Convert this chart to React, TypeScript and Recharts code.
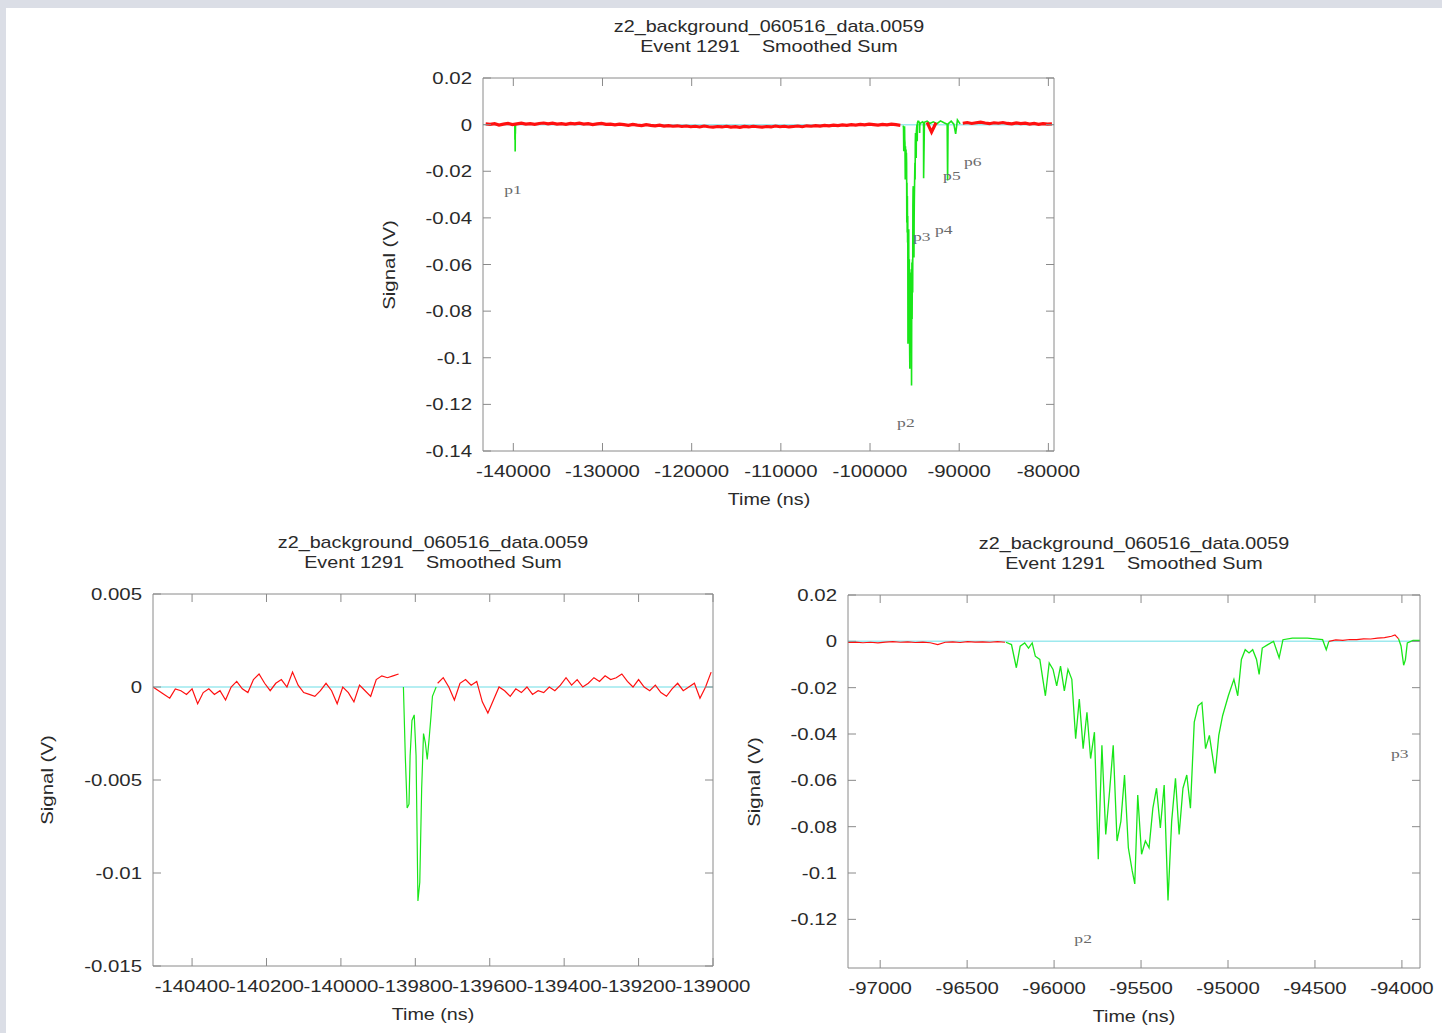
import React from 'react';
import { LineChart, Line, XAxis, YAxis, ReferenceDot } from 'recharts';

// ---- data ----

// p1 pulse (same pulse in the overview and the left zoom)
const p1Times = [-139832, -139827, -139822, -139817, -139814, -139809, -139803, -139798, -139793, -139788, -139783, -139778, -139773, -139768, -139763, -139758, -139754, -139744];
const p1Vals = [0, -0.0037, -0.0065, -0.0063, -0.0037, -0.0018, -0.0015, -0.0037, -0.0115, -0.0105, -0.0055, -0.0025, -0.003, -0.0039, -0.0028, -0.0016, -0.0005, 0];

// p2 pulse (overview and right zoom)
const p2Times = [
  -96277, -96245, -96217, -96195, -96169, -96147, -96126, -96108, -96082, -96050,
  -96028, -96006, -95985, -95963, -95941, -95920, -95898, -95876, -95855, -95833,
  -95811, -95790, -95768, -95746, -95725, -95703, -95681, -95660, -95638, -95616,
  -95595, -95573, -95551, -95536, -95519, -95497, -95475, -95454, -95432, -95411,
  -95389, -95367, -95345, -95324, -95302, -95281, -95259, -95237, -95216, -95194,
  -95172, -95150, -95129, -95107, -95074, -95053, -95031, -94998, -94966, -94944,
  -94923, -94901, -94879, -94858, -94836, -94821, -94803, -94771, -94738, -94706,
  -94684, -94630, -94543, -94456, -94435, -94420,
];
const p2Vals = [
  -0.0004, -0.0014, -0.0114, -0.0021, -0.0007, -0.0029, -0.0007, -0.0064, -0.0078, -0.0235,
  -0.0093, -0.0121, -0.0192, -0.0107, -0.0214, -0.0121, -0.0164, -0.042, -0.0249, -0.0463,
  -0.0306, -0.0506, -0.0392, -0.094, -0.0449, -0.0834, -0.0648, -0.0449, -0.0862, -0.0777,
  -0.0577, -0.0891, -0.099, -0.1047, -0.0663, -0.0919, -0.0862, -0.0891, -0.072, -0.0634,
  -0.0805, -0.062, -0.1119, -0.0777, -0.0591, -0.0834, -0.0634, -0.0577, -0.072, -0.0349,
  -0.0278, -0.0264, -0.0463, -0.0406, -0.057, -0.0406, -0.0321, -0.0235, -0.0164, -0.0235,
  -0.0078, -0.0036, -0.005, -0.0036, -0.0078, -0.0143, -0.0029, -0.0014, 0, -0.0071,
  0.0007, 0.0014, 0.0014, 0.0007, -0.0036, 0,
];

// later pulses as seen in the overview
const topTailTimes = [-94300, -94100, -94000, -93990, -93900, -93600, -93300, -92900, -92500, -92100, -91700, -91350, -91300, -91250, -90900, -90600, -90400, -90200, -89900];
const topTailVals = [0.0008, 0.0012, 0.0005, -0.023, 0.001, 0.0015, 0.0005, 0.0012, 0.0004, 0.0016, 0.0008, 0.0002, -0.024, 0.0003, 0.0015, 0.0002, -0.004, 0.002, 0.0003];

// overview raw trace, sampled every 500 ns from -143100
const topRedStart = -143100;
const topRedStep = 500;
const topRedVals: (number | null)[] = [
  0.0003, 0.0001, 0.0004, -0.0002, 0.0002, 0.0005, 0.0, 0.0003, 0.0006, 0.0002,
  0.0004, 0.0001, 0.0005, 0.0007, 0.0003, 0.0006, 0.0002, 0.0004, 0.0001, 0.0005,
  0.0003, 0.0006, 0.0002, 0.0004, 0.0, 0.0003, 0.0005, 0.0001, 0.0002, -0.0001,
  0.0002, 0.0, -0.0003, 0.0001, -0.0002, -0.0004, 0.0, -0.0003, -0.0005, -0.0002,
  -0.0006, -0.0004, -0.0007, -0.0005, -0.0008, -0.0006, -0.0009, -0.0007, -0.001, -0.0006,
  -0.0009, -0.0011, -0.0008, -0.001, -0.0007, -0.0011, -0.0009, -0.0012, -0.0008, -0.001,
  -0.0007, -0.0009, -0.0011, -0.0008, -0.001, -0.0006, -0.0009, -0.0007, -0.001, -0.0008,
  -0.0006, -0.0009, -0.0005, -0.0007, -0.0004, -0.0006, -0.0003, -0.0005, -0.0002, -0.0004,
  -0.0001, -0.0003, 0.0, -0.0002, 0.0001, -0.0001, 0.0002, 0.0, -0.0002, 0.0001,
  -0.0001, 0.0002, 0.0, -0.0003,
  null, null, null, null, null,
  0.001, -0.0032, 0.0008,
  null, null, null, null, null,
  0.0006, 0.0009, 0.0005, 0.0008, 0.0011, 0.0007, 0.0004, 0.0008, 0.0006, 0.0009,
  0.0005, 0.0003, 0.0007, 0.0004, 0.0006, 0.0002, 0.0005, 0.0001, 0.0004, 0.0002, 0.0003,
];

// left zoom raw trace, sampled every 15 ns from -140505
const blRedStart = -140505;
const blRedStep = 15;
const blRedVals: (number | null)[] = [
  0.0, -0.0002, -0.0004, -0.0006, -0.0001, -0.0002, -0.0004, -0.0001, -0.0009, -0.0003,
  -0.0001, -0.0004, -0.0002, -0.0007, 0.0, 0.0003, -0.0001, -0.0003, 0.0004, 0.0007,
  0.0002, -0.0002, 0.0002, 0.0004, 0.0, 0.0008, 0.0001, -0.0003, -0.0004, -0.0005,
  -0.0002, 0.0002, -0.0002, -0.0009, 0.0, -0.0003, -0.0008, 0.0001, -0.0002, -0.0005,
  0.0004, 0.0006, 0.0005, 0.0006, 0.0007,
  null, null, null, null, null, null,
  0.0002, 0.0005, 0.0, -0.0007, 0.0002, 0.0004, 0.0001, 0.0003, -0.0008,
  -0.0014, -0.0007, 0.0, -0.0002, -0.0005, -0.0001, -0.0003, 0.0, -0.0004, -0.0002,
  -0.0003, 0.0, -0.0002, 0.0001, 0.0005, 0.0001, 0.0004, 0.0, 0.0002, 0.0005,
  0.0003, 0.0006, 0.0004, 0.0005, 0.0007, 0.0003, 0.0, 0.0004, 0.0, -0.0002,
  0.0001, -0.0003, -0.0005, -0.0001, 0.0002, -0.0002, 0.0, 0.0002, -0.0006, 0.0, 0.0008,
];

// right zoom raw trace
const brRedStart = -97185;
const brRedStep = 43;
const brRedVals = [
  -0.0005, -0.0003, -0.0006, -0.0004, -0.0007, -0.0003, -0.0001, -0.0004, -0.0002, -0.0005,
  -0.0003, -0.0006, -0.0014, -0.0004, -0.0002, -0.0005, -0.0001, -0.0003, -0.0002, -0.0004,
  -0.0001, -0.0004,
];
const brRedTailTimes = [-94420, -94380, -94340, -94300, -94260, -94220, -94180, -94140, -94100, -94060, -94040, -94020];
const brRedTailVals = [0, 0.0006, 0.0004, 0.0008, 0.0007, 0.0011, 0.001, 0.0014, 0.0016, 0.0022, 0.0028, 0.0012];
const brP3Times = [-94020, -94005, -93990, -93980, -93969, -93936, -93893];
const brP3Vals = [0.0012, -0.002, -0.0103, -0.008, -0.0007, 0.0004, 0.0004];

// axes
const topXDomain = [-143400, -79370];
const topXTicks = [-140000, -130000, -120000, -110000, -100000, -90000, -80000];
const topYDomain = [-0.14, 0.02];
const topYTicks = [0.02, 0, -0.02, -0.04, -0.06, -0.08, -0.1, -0.12, -0.14];

const blXDomain = [-140505, -139000];
const blXTicks = [-140400, -140200, -140000, -139800, -139600, -139400, -139200, -139000];
const blYDomain = [-0.015, 0.005];
const blYTicks = [0.005, 0, -0.005, -0.01, -0.015];

const brXDomain = [-97185, -93896];
const brXTicks = [-97000, -96500, -96000, -95500, -95000, -94500, -94000];
const brYDomain = [-0.141, 0.02];
const brYTicks = [0.02, 0, -0.02, -0.04, -0.06, -0.08, -0.1, -0.12];

const topMarks = [
  { name: 'p1', t: -140030, v: -0.028 },
  { name: 'p2', t: -95980, v: -0.128 },
  { name: 'p3', t: -94190, v: -0.048 },
  { name: 'p4', t: -91720, v: -0.045 },
  { name: 'p5', t: -90820, v: -0.022 },
  { name: 'p6', t: -88470, v: -0.016 },
];
const brMarks = [
  { name: 'p2', t: -95833, v: -0.1283 },
  { name: 'p3', t: -94013, v: -0.0485 },
];

const titleLine1 = 'z2_background_060516_data.0059';
const titleLine2 = 'Event 1291    Smoothed Sum';

// ---- helpers ----
type Pt = { t: number; v: number | null };
const grid = (start: number, step: number, vals: (number | null)[]): Pt[] => vals.map((v, i) => ({ t: start + i * step, v }));
const pairs = (ts: number[], vs: number[]): Pt[] => ts.map((t, i) => ({ t, v: vs[i] }));
const gap = (t: number): Pt[] => [{ t, v: null }];

const FONT = '"Liberation Sans", Arial, Helvetica, sans-serif';
const SERIF = '"Liberation Serif", "DejaVu Serif", serif';
const TXT = '#2a2a2a';
const AXIS = '#8a8a8a';
const RED = '#ff1010';
const GREEN = '#19e619';
const CYAN = '#9de9ee';
const SX = 1.16;
const SX_TICK = 1.2;

const fmtNum = (v: number) => (v === 0 ? '0' : String(Number(v.toFixed(4))));

const BottomTick = (props: any) => {
  const { x, y, payload } = props;
  return (
    <g>
      <line x1={x} y1={y} x2={x} y2={y - 8} stroke={AXIS} />
      <text transform={`translate(${x},${y + 26}) scale(${SX_TICK},1)`} textAnchor="middle" fontSize={17} fontFamily={FONT} fill={TXT}>
        {fmtNum(payload.value)}
      </text>
    </g>
  );
};
const TopTick = (props: any) => <line x1={props.x} y1={props.y} x2={props.x} y2={props.y + 8} stroke={AXIS} />;
const LeftTick = (props: any) => {
  const { x, y, payload } = props;
  return (
    <g>
      <line x1={x} y1={y} x2={x + 8} y2={y} stroke={AXIS} />
      <text transform={`translate(${x - 11},${y + 6}) scale(${SX_TICK},1)`} textAnchor="end" fontSize={17} fontFamily={FONT} fill={TXT}>
        {fmtNum(payload.value)}
      </text>
    </g>
  );
};
const RightTick = (props: any) => <line x1={props.x} y1={props.y} x2={props.x - 8} y2={props.y} stroke={AXIS} />;

const Caption = ({ x, y, text, rotate }: { x: number; y: number; text: string; rotate?: boolean }) => (
  <div
    style={{
      position: 'absolute',
      left: x,
      top: y,
      transform: rotate ? 'translate(-50%,-50%) rotate(-90deg) scaleX(1.2)' : `translate(-50%,-50%) scaleX(${SX})`,
      whiteSpace: 'pre',
      fontFamily: FONT,
      fontSize: 17,
      lineHeight: '20px',
      color: TXT,
    }}
  >
    {text}
  </div>
);

interface PanelProps {
  plot: { x: number; y: number; w: number; h: number };
  xDomain: number[];
  xTicks: number[];
  yDomain: number[];
  yTicks: number[];
  red: Pt[];
  green: Pt[];
  redWidth: number;
  greenWidth: number;
  marks: { name: string; t: number; v: number }[];
  yLabelDx: number;
}

// axis band sizes; the plot box sits exactly inside them
const AX_B = 30, AX_T = 10, AX_L = 60, AX_R = 10;

const Panel: React.FC<PanelProps> = ({ plot, xDomain, xTicks, yDomain, yTicks, red, green, redWidth, greenWidth, marks, yLabelDx }) => {
  const ML = 130, MR = 50, MT = 12, MB = 45;
  const cx = plot.x + plot.w / 2;
  const base = pairs(xDomain, [0, 0]);
  return (
    <>
      <div style={{ position: 'absolute', left: plot.x - ML, top: plot.y - MT }}>
        <LineChart width={plot.w + ML + MR} height={plot.h + MT + MB}
          margin={{ top: MT - AX_T, right: MR - AX_R, bottom: MB - AX_B, left: ML - AX_L }}>
          <XAxis xAxisId="b" dataKey="t" type="number" domain={xDomain} ticks={xTicks} interval={0} allowDataOverflow
            height={AX_B} tickSize={0} tickMargin={0} tickLine={false} axisLine={{ stroke: AXIS }} tick={<BottomTick />} />
          <XAxis xAxisId="t" orientation="top" dataKey="t" type="number" domain={xDomain} ticks={xTicks} interval={0} allowDataOverflow
            height={AX_T} tickSize={0} tickMargin={0} tickLine={false} axisLine={{ stroke: AXIS }} tick={<TopTick />} />
          <YAxis yAxisId="l" type="number" domain={yDomain} ticks={yTicks} interval={0} allowDataOverflow
            width={AX_L} tickSize={0} tickMargin={0} tickLine={false} axisLine={{ stroke: AXIS }} tick={<LeftTick />} />
          <YAxis yAxisId="r" orientation="right" type="number" domain={yDomain} ticks={yTicks} interval={0} allowDataOverflow
            width={AX_R} tickSize={0} tickMargin={0} tickLine={false} axisLine={{ stroke: AXIS }} tick={<RightTick />} />
          <Line xAxisId="b" yAxisId="l" data={base} dataKey="v" type="linear" stroke={CYAN} strokeWidth={1.5} dot={false} activeDot={false} isAnimationActive={false} />
          <Line xAxisId="b" yAxisId="l" data={green} dataKey="v" type="linear" stroke={GREEN} strokeWidth={greenWidth} dot={false} activeDot={false} connectNulls={false} isAnimationActive={false} />
          <Line xAxisId="b" yAxisId="l" data={red} dataKey="v" type="linear" stroke={RED} strokeWidth={redWidth} dot={false} activeDot={false} connectNulls={false} isAnimationActive={false} />
          {marks.map((m) => (
            <ReferenceDot key={m.name + m.t} xAxisId="b" yAxisId="l" x={m.t} y={m.v} r={0} ifOverflow="visible"
              shape={(p: any) => (
                <text transform={`translate(${p.cx},${p.cy + 4}) scale(1.35,1)`} textAnchor="middle" fontSize={13} fontFamily={SERIF} fill="#6a6a6a">
                  {m.name}
                </text>
              )}
            />
          ))}
        </LineChart>
      </div>
      <Caption x={cx} y={plot.y - 51} text={titleLine1} />
      <Caption x={cx} y={plot.y - 31} text={titleLine2} />
      <Caption x={cx} y={plot.y + plot.h + 49} text="Time (ns)" />
      <Caption x={plot.x - yLabelDx} y={plot.y + plot.h / 2} text="Signal (V)" rotate />
    </>
  );
};

export default function App() {
  const topRed = grid(topRedStart, topRedStep, topRedVals);
  const topGreen = [...pairs(p1Times, p1Vals), ...gap(-120000), ...pairs(p2Times, p2Vals), ...pairs(topTailTimes, topTailVals)];

  const blRed = grid(blRedStart, blRedStep, blRedVals);
  const blGreen = pairs(p1Times, p1Vals);

  const brRed = [...grid(brRedStart, brRedStep, brRedVals), ...gap(-95500), ...pairs(brRedTailTimes, brRedTailVals)];
  const brGreen = [...pairs(p2Times, p2Vals), ...gap(-94200), ...pairs(brP3Times, brP3Vals)];

  return (
    <div style={{ position: 'absolute', left: 0, top: 0, width: 1442, height: 1033, overflow: 'hidden', background: '#dbdee6' }}>
      <div style={{ position: 'absolute', left: 6, top: 8, right: 0, bottom: 0, background: '#ffffff' }} />
      <Panel plot={{ x: 483, y: 78, w: 571, h: 373 }} xDomain={topXDomain} xTicks={topXTicks} yDomain={topYDomain} yTicks={topYTicks}
        red={topRed} green={topGreen} redWidth={3.2} greenWidth={1.6} marks={topMarks} yLabelDx={93} />
      <Panel plot={{ x: 153, y: 594, w: 560, h: 372 }} xDomain={blXDomain} xTicks={blXTicks} yDomain={blYDomain} yTicks={blYTicks}
        red={blRed} green={blGreen} redWidth={1.2} greenWidth={1.2} marks={[]} yLabelDx={105} />
      <Panel plot={{ x: 848, y: 595, w: 572, h: 373 }} xDomain={brXDomain} xTicks={brXTicks} yDomain={brYDomain} yTicks={brYTicks}
        red={brRed} green={brGreen} redWidth={1.2} greenWidth={1.3} marks={brMarks} yLabelDx={93} />
    </div>
  );
}
